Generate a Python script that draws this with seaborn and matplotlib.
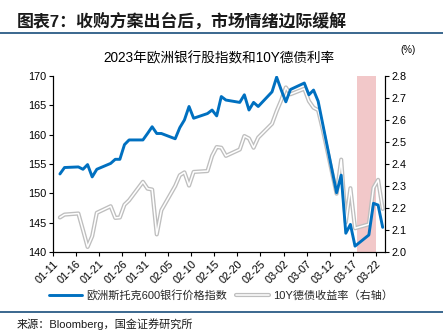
import matplotlib
matplotlib.use("Agg")
import matplotlib.pyplot as plt
from matplotlib.lines import Line2D
import seaborn as sns
import pandas as pd
import numpy as np

# ---------------- data ----------------
dates = [
    "2023-01-12", "2023-01-13", "2023-01-16", "2023-01-17", "2023-01-18", "2023-01-19", "2023-01-20",
    "2023-01-23", "2023-01-24", "2023-01-25", "2023-01-26", "2023-01-27", "2023-01-30", "2023-01-31",
    "2023-02-01", "2023-02-02", "2023-02-03", "2023-02-06", "2023-02-07", "2023-02-08", "2023-02-09",
    "2023-02-10", "2023-02-13", "2023-02-14", "2023-02-15", "2023-02-16", "2023-02-17", "2023-02-20",
    "2023-02-21", "2023-02-22", "2023-02-23", "2023-02-24", "2023-02-27", "2023-02-28", "2023-03-01",
    "2023-03-02", "2023-03-03", "2023-03-06", "2023-03-07", "2023-03-08", "2023-03-09", "2023-03-10",
    "2023-03-13", "2023-03-14", "2023-03-15", "2023-03-16", "2023-03-17", "2023-03-20", "2023-03-21",
    "2023-03-22", "2023-03-23",
]
bank_index = [
    153.3, 154.4, 154.5, 154.1, 154.9, 152.8, 154.1,
    155.1, 155.8, 155.8, 158.3, 159.1, 159.1, 160.2,
    161.35, 160.2, 160.2, 159.3, 161.2, 162.5, 164.8,
    162.8, 163.6, 164.2, 163.2, 166.5, 165.9, 165.5,
    166.8, 164.2, 165.5, 164.8, 167.3, 169.8, 167.6,
    165.6, 167.7, 168.8, 166.8, 167.6, 165.7, 161.8,
    150.1, 153.1, 143.2, 144.7, 141.0, 142.9, 148.3,
    148.0, 144.2,
]
bund_10y = [
    2.157, 2.170, 2.175, 2.100, 2.023, 2.072, 2.178,
    2.208, 2.155, 2.157, 2.215, 2.235, 2.319, 2.288,
    2.284, 2.080, 2.190, 2.300, 2.349, 2.362, 2.302,
    2.364, 2.368, 2.437, 2.477, 2.474, 2.437, 2.466,
    2.527, 2.516, 2.474, 2.520, 2.583, 2.640, 2.690,
    2.748, 2.717, 2.742, 2.686, 2.656, 2.645, 2.557,
    2.265, 2.420, 2.135, 2.290, 2.108, 2.126, 2.292,
    2.328, 2.196,
]
shade_span = ["2023-03-18", "2023-03-22"]
tick_start, tick_end = "2023-01-11", "2023-03-22"
title = "2023年欧洲银行股指数和10Y德债利率"
header = "图表7：收购方案出台后，市场情绪边际缓解"
source = "来源：Bloomberg，国金证券研究所"
label_bank = "欧洲斯托克600银行价格指数"
label_bund = "10Y德债收益率（右轴）"

# ---------------- style ----------------
sns.set_theme(style="white")
plt.rcParams["font.family"] = ["Liberation Sans", "Noto Sans CJK SC", "DejaVu Sans"]
plt.rcParams["axes.unicode_minus"] = False

W, H = 443, 334
fig = plt.figure(figsize=(W / 100, H / 100), dpi=100)
ax = fig.add_axes([53 / W, 1 - 252 / H, (385 - 53) / W, (252 - 76) / H])
ax2 = ax.twinx()

df = pd.DataFrame({
    "date": pd.to_datetime(dates) + pd.Timedelta(hours=12),
    "bank": bank_index,
    "bund": bund_10y,
})

BLUE = "#0070C0"
GRAY = "#BEBEBE"
NAVY = "#2B5C86"

# shading (drawn on the lower axes so lines are on top)
ax2.axvspan(pd.Timestamp(shade_span[0]), pd.Timestamp(shade_span[1]),
            color="#F2C8C9", lw=0, zorder=0)

sns.lineplot(data=df, x="date", y="bund", ax=ax2, color=GRAY, lw=3.0, zorder=2, legend=False)
sns.lineplot(data=df, x="date", y="bund", ax=ax2, color="white", lw=1.1, zorder=3, legend=False)
sns.lineplot(data=df, x="date", y="bank", ax=ax, color=BLUE, lw=2.1, zorder=4, legend=False)

ax.set_zorder(ax2.get_zorder() + 1)
ax.patch.set_visible(False)

ax.set_xlim(pd.Timestamp("2023-01-11"), pd.Timestamp("2023-03-24"))
ax.set_ylim(140, 170)
ax2.set_ylim(2.0, 2.8)
ax.set_yticks(np.arange(140, 171, 5))
ax2.set_yticks(np.arange(2.0, 2.81, 0.1))
ax2.set_yticklabels([f"{v:.1f}" for v in np.arange(2.0, 2.81, 0.1)])

ticks = pd.date_range(tick_start, tick_end, freq="5D")
ax.set_xticks(ticks)
ax.set_xticklabels([t.strftime("%m-%d") for t in ticks], rotation=45, ha="right",
                   rotation_mode="anchor")
ax.set_xlabel("")
ax.set_ylabel("")
ax2.set_xlabel("")
ax2.set_ylabel("")

for a in (ax, ax2):
    a.spines["top"].set_visible(False)
    for s in ("left", "right", "bottom"):
        a.spines[s].set_color("black")
        a.spines[s].set_linewidth(0.8)
    a.grid(False)

ax.tick_params(axis="both", which="major", direction="out", length=3, width=0.8,
               color="black", labelsize=7.8, labelcolor="black", pad=2)
ax.tick_params(axis="y", left=True, right=False)
ax.tick_params(axis="x", bottom=True)
ax2.tick_params(axis="y", right=True, direction="out", length=3, width=0.8,
                color="black", labelsize=7.8, labelcolor="black", pad=2)

# ---------------- texts ----------------
fig.text(17 / W, 1 - 21 / H, header, fontsize=12.2, fontweight="bold",
         ha="left", va="center", color="#1a1a1a")
fig.add_artist(Line2D([0, 1], [1 - 33 / H, 1 - 33 / H], color=NAVY, lw=1.3))
fig.text(219 / W, 1 - 58 / H, title, fontsize=9.8, ha="center", va="center", color="black")
fig.text(408 / W, 1 - 50 / H, "(%)", fontsize=7, ha="center", va="center", color="black")

h1 = Line2D([], [], color=BLUE, lw=2.1)
h2a = Line2D([], [], color=GRAY, lw=3.0)
h2b = Line2D([], [], color="white", lw=1.1)
fig.legend([h1, (h2a, h2b)], [label_bank, label_bund], loc="center",
           bbox_to_anchor=(221 / W, 1 - 295 / H), ncol=2, frameon=False,
           fontsize=8, handlelength=3.0, handletextpad=0.35, columnspacing=0.8,
           borderpad=0, borderaxespad=0)

fig.add_artist(Line2D([0, 1], [1 - 312 / H, 1 - 312 / H], color=NAVY, lw=1.3))
fig.text(17 / W, 1 - 324 / H, source, fontsize=8, ha="left", va="center", color="#1a1a1a")

fig.savefig("out.png", dpi=100)
